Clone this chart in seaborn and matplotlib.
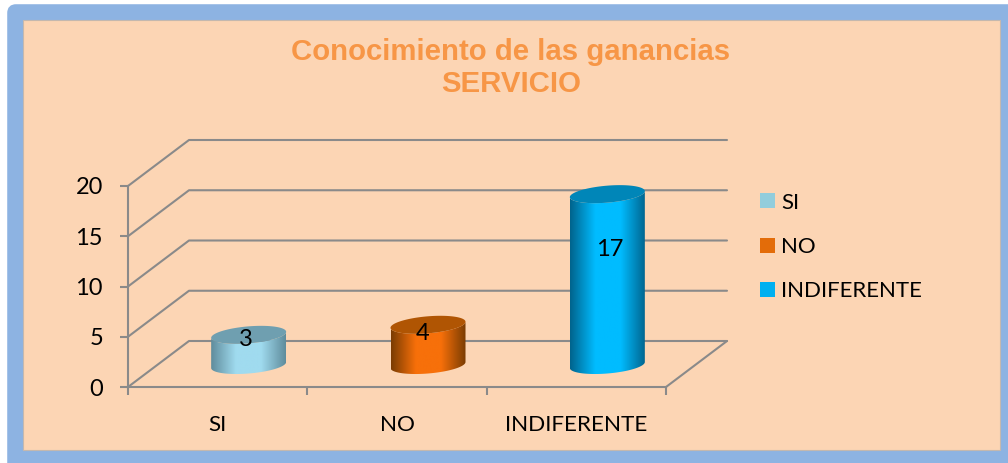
import numpy as np
import matplotlib
matplotlib.use("Agg")
import matplotlib.pyplot as plt
from matplotlib.colors import LinearSegmentedColormap
from matplotlib.patches import FancyBboxPatch, Patch, Polygon, Rectangle
import seaborn as sns

# data
categories = ['SI', 'NO', 'INDIFERENTE']
values = [3, 4, 17]
y_ticks = [0, 5, 10, 15, 20]
title_text = 'Conocimiento de las ganancias\nSERVICIO'

# colours per series: legend, dark edge, bright middle, top cap
legend_cols = ['#92CDDC', '#E36C09', '#00B0F0']
edge_cols = ['#5F8C9C', '#7A3C02', '#00638C']
mid_cols = ['#A0DBEF', '#F7700A', '#00BCFF']
cap_cols = ['#6F9FB0', '#B05503', '#0086B8']
label_shift = [(-2, -3), (-4, -6), (2, -40)]

W, H = 1008, 463
sns.set_theme(style='white')
plt.rcParams['font.family'] = ['Lato', 'DejaVu Sans']
grey = '#8A8A8A'
line_w = 1.5


def px_axes(fig, left, top, right, bottom, **kw):
    return fig.add_axes([left / W, 1 - bottom / H, (right - left) / W, (bottom - top) / H], **kw)


fig = plt.figure(figsize=(W / 100, H / 100), dpi=100, facecolor='white')

# frame
bg = px_axes(fig, 0, 0, W, H, zorder=0)
bg.set_xlim(0, W)
bg.set_ylim(H, 0)
bg.axis('off')
bg.add_patch(FancyBboxPatch((10, 7), W, H, boxstyle='round,pad=0,rounding_size=6',
                            fc='#8DB3E2', ec='#8DB3E2', lw=4))
bg.add_patch(Rectangle((23, 20), 977, 430, fc='#FCD5B4', ec='#C4B8AE', lw=0.8))
bg.text(511, 68, title_text, ha='center', va='center', color='#F79646', fontsize=21.2,
        fontweight='bold', family='Liberation Sans', linespacing=1.2)

# front plane of the chart
ax = px_axes(fig, 128, 186, 666, 387, zorder=1)
ax.patch.set_alpha(0)
ax.set_xlim(-0.5, 2.5)
ax.set_ylim(0, 20)
dx, dy = 61 / (538 / 3), 46 / (201 / 20)
for v in y_ticks:
    ax.plot([-0.5, -0.5 + dx, 2.5 + dx], [v, v + dy, v + dy], color=grey, lw=line_w, clip_on=False)
ax.plot([2.5, 2.5 + dx], [0, dy], color=grey, lw=line_w, clip_on=False)
ax.set_yticks(y_ticks)
ax.set_xticks(range(len(categories)))
ax.set_xticklabels(categories)
ax.set_xticks(np.arange(-0.5, 3), minor=True)
ax.tick_params(axis='x', which='major', length=0, pad=20, labelsize=16.2, labelcolor='black')
ax.tick_params(axis='x', which='minor', length=6, width=line_w, color=grey, bottom=True)
ax.tick_params(axis='y', length=6, width=line_w, color=grey, left=True, pad=12, labelsize=17,
               labelcolor='black')
sns.despine(ax=ax, top=True, right=True)
for side in ['left', 'bottom']:
    ax.spines[side].set_color(grey)
    ax.spines[side].set_linewidth(line_w)

# cylinders sit half way into the depth of the floor
px_x, px_y = 538 / 3, 201 / 20
ybot = -3
bar_ax = px_axes(fig, 128 + 31, 186 - 22, 666 + 31, 387 - 22 - ybot * px_y, zorder=2)
bar_ax.patch.set_alpha(0)
sns.barplot(x=categories, y=values, hue=categories, palette=legend_cols, width=75 / px_x,
            legend=False, ax=bar_ax)
bar_ax.set_xlim(-0.5, 2.5)
bar_ax.set_ylim(ybot, 20)
bar_ax.axis('off')

t = np.linspace(0, 2 * np.pi, 181)
b, s = 8.5 / px_y, 3 / px_y
for i, bar in enumerate(bar_ax.patches[:len(categories)]):
    x0, w, h = bar.get_x(), bar.get_width(), bar.get_height()
    bar.set_visible(False)
    cx, a = x0 + w / 2, w / 2
    ex, ey = cx + a * np.cos(t), b * np.sin(t) + s * np.cos(t)
    lower = t >= np.pi
    side = np.r_[np.c_[ex[lower], ey[lower]], np.c_[ex[lower][::-1], ey[lower][::-1] + h]]
    cmap = LinearSegmentedColormap.from_list('c', [edge_cols[i], mid_cols[i], mid_cols[i], edge_cols[i]])
    im = bar_ax.imshow(np.linspace(0, 1, 256)[None, :], cmap=cmap, aspect='auto', zorder=3,
                       extent=[x0, x0 + w, ybot, h + 2])
    im.set_clip_path(Polygon(side, transform=bar_ax.transData))
    bar_ax.add_patch(Polygon(np.c_[ex, ey + h], fc=cap_cols[i], ec='none', zorder=4))
    bar_ax.annotate(str(values[i]), xy=(cx, h), xytext=label_shift[i], textcoords='offset points',
                    ha='center', va='center', fontsize=17, color='black', zorder=5)
bar_ax.set_xlim(-0.5, 2.5)
bar_ax.set_ylim(ybot, 20)

# legend
handles = [Patch(fc=c, ec='none') for c in legend_cols]
fig.legend(handles, categories, loc='center left', bbox_to_anchor=(753 / W, 1 - 247 / H),
           frameon=False, fontsize=16, handlelength=0.68, handleheight=0.68, handletextpad=0.3,
           labelspacing=1.1, labelcolor='black', borderpad=0, borderaxespad=0.3)

fig.savefig('out.png', dpi=100)
